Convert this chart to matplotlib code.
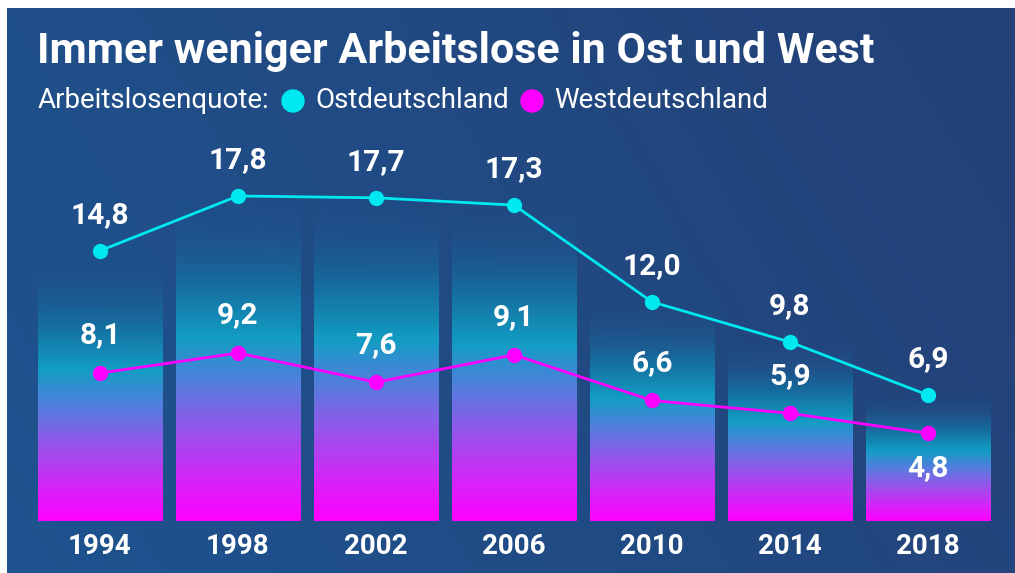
import numpy as np
import matplotlib.pyplot as plt
from matplotlib.colors import LinearSegmentedColormap
from matplotlib.patches import Rectangle, Ellipse

# Data
years = ['1994', '1998', '2002', '2006', '2010', '2014', '2018']
ost = [14.8, 17.8, 17.7, 17.3, 12.0, 9.8, 6.9]
west = [8.1, 9.2, 7.6, 9.1, 6.6, 5.9, 4.8]

title = 'Immer weniger Arbeitslose in Ost und West'
subtitle = 'Arbeitslosenquote:'
ost_name = 'Ostdeutschland'
west_name = 'Westdeutschland'

CYAN = '#00e8f0'
MAGENTA = '#ff00ff'
W, H = 1015, 573

plt.rcParams['font.family'] = ['Roboto', 'DejaVu Sans']

fig = plt.figure(figsize=(W / 100, H / 100), dpi=100)
fig.patch.set_facecolor('white')

# background panel with soft gradient
bg = fig.add_axes([7 / W, 0, 1 - 7 / W, 565 / H])
bg.set_axis_off()
gx = np.linspace(0, 1, 200)
gy = np.linspace(0, 1, 120)
GX, GY = np.meshgrid(gx, gy)
t = np.clip(0.75 * GX + 0.25 * (1 - GY), 0, 1)
c0 = np.array([30, 84, 144]) / 255
c1 = np.array([36, 64, 118]) / 255
img = c0[None, None, :] * (1 - t[..., None]) + c1[None, None, :] * t[..., None]
bg.imshow(img, extent=[0, 1, 0, 1], aspect='auto', origin='upper')
bg.set_xlim(0, 1)
bg.set_ylim(0, 1)

# main data axes
ppu = 18.26  # pixels per unit
ax_bottom = H - 521
ax_top = 130
ax_h = (H - ax_top) - ax_bottom
ax = fig.add_axes([31 / W, ax_bottom / H, 966 / W, ax_h / H])
ax.set_axis_off()
ax.patch.set_alpha(0)

# gradient for bars
stops = [
    (0.00, (255, 0, 255, 255)),
    (0.12, (215, 35, 248, 255)),
    (0.28, (150, 85, 235, 255)),
    (0.42, (85, 125, 222, 255)),
    (0.56, (18, 158, 196, 255)),
    (0.74, (22, 110, 160, 230)),
    (0.88, (30, 90, 145, 110)),
    (1.00, (30, 84, 144, 0)),
]
cmap = LinearSegmentedColormap.from_list(
    'bar', [(p, tuple(np.array(c) / 255)) for p, c in stops])
grad = cmap(np.linspace(0, 1, 256))[:, None, :]

x = np.arange(len(years))
bw = 0.9
for xi, h in zip(x, ost):
    rect = Rectangle((xi - bw / 2, 0), bw, h, facecolor='none', edgecolor='none')
    ax.add_patch(rect)
    im = ax.imshow(grad, extent=[xi - bw / 2, xi + bw / 2, 0, h],
                   aspect='auto', origin='lower', zorder=1)
    im.set_clip_path(rect)
ax.set_xlim(-0.5, 6.5)
ax.set_ylim(0, ax_h / ppu)

ax.plot(x, ost, color=CYAN, lw=2, marker='o', ms=10, zorder=3)
ax.plot(x, west, color=MAGENTA, lw=2, marker='o', ms=10, zorder=3)

lab_kw = dict(ha='center', va='center', color='white', fontsize=21.5,
              fontweight='bold', textcoords='offset points', zorder=4)
for xi, v in zip(x, ost):
    ax.annotate(f'{v:.1f}'.replace('.', ','), (xi, v), xytext=(0, 26), **lab_kw)
for i, (xi, v) in enumerate(zip(x, west)):
    dy = -25 if i == len(x) - 1 else 27
    ax.annotate(f'{v:.1f}'.replace('.', ','), (xi, v), xytext=(0, dy), **lab_kw)

for xi, yr in zip(x, years):
    ax.annotate(yr, (xi, 0), xytext=(0, -18), ha='center', va='center',
                color='white', fontsize=20, fontweight='bold',
                textcoords='offset points')

# title and legend line
fig.text(37 / W, 1 - 52 / H, title, color='white', fontsize=31,
         fontweight='bold', va='center', ha='left')
ly = 1 - 101 / H
fig.text(38 / W, ly, subtitle, color='white', fontsize=20,
         va='center', ha='left')
fig.add_artist(Ellipse((293 / W, ly), 22 / W, 22 / H, color=CYAN,
                       transform=fig.transFigure))
fig.text(315 / W, ly, ost_name, color='white', fontsize=20,
         va='center', ha='left')
fig.add_artist(Ellipse((532 / W, ly), 22 / W, 22 / H, color=MAGENTA,
                       transform=fig.transFigure))
fig.text(554 / W, ly, west_name, color='white', fontsize=20,
         va='center', ha='left')

fig.savefig('out.png', dpi=100, facecolor=fig.get_facecolor())
